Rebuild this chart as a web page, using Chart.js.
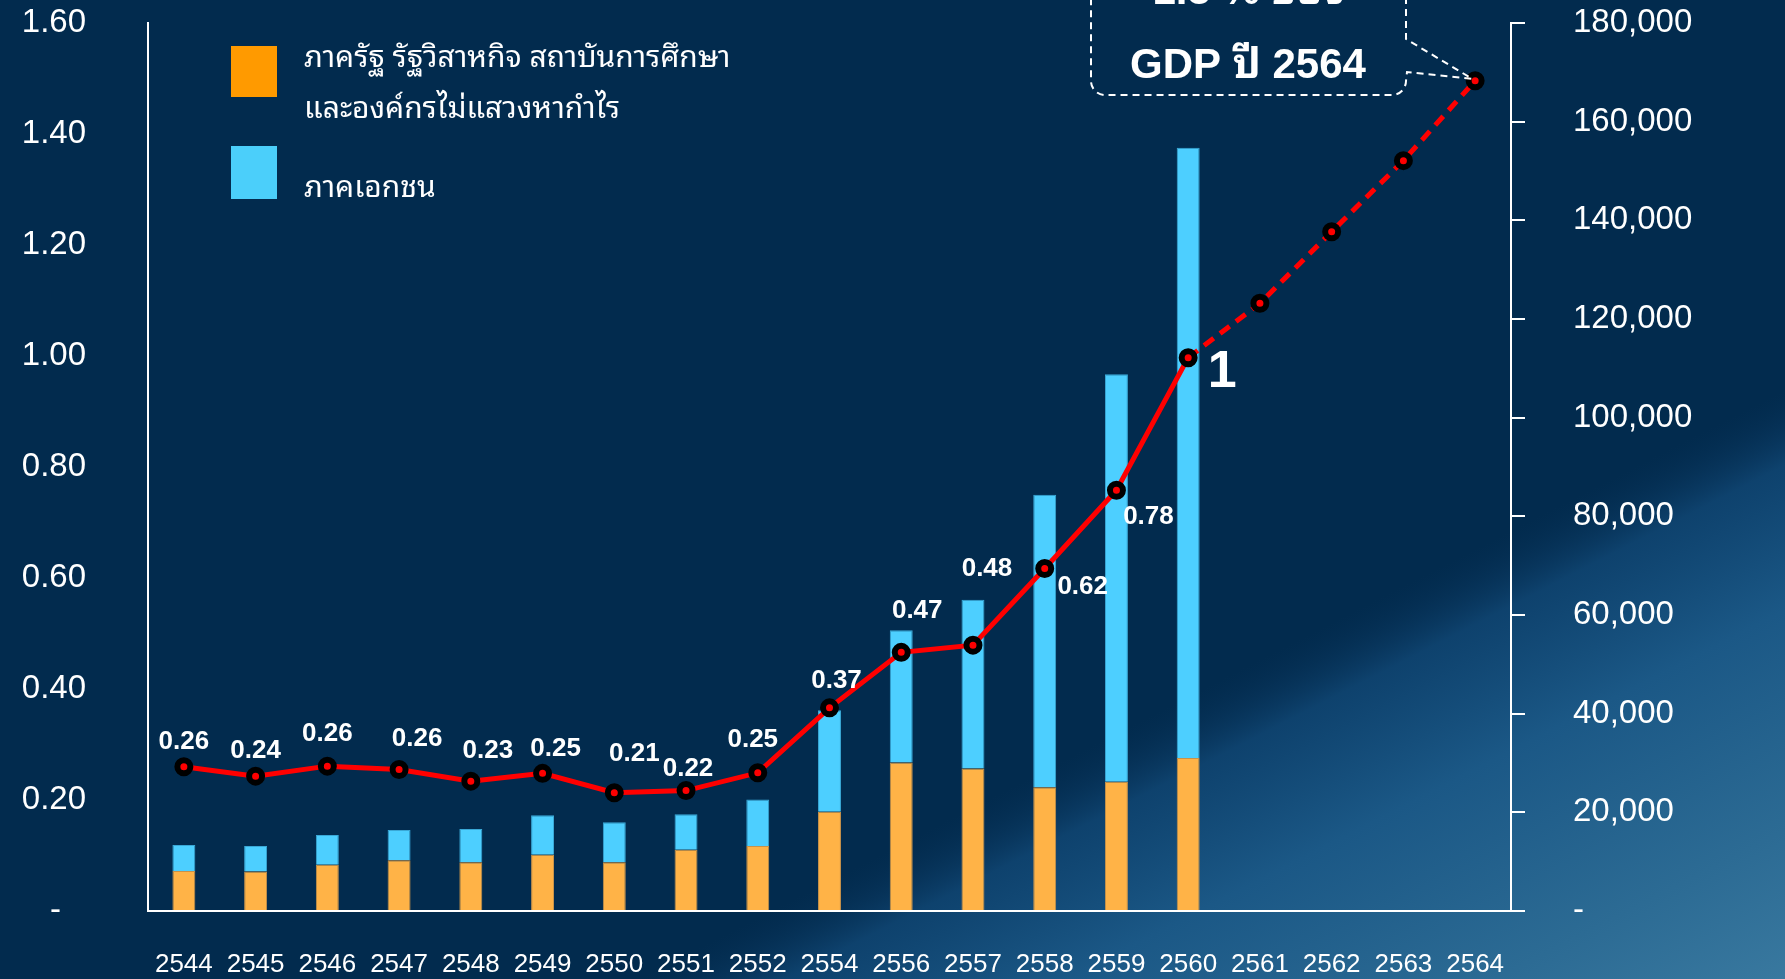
<!DOCTYPE html>
<html><head><meta charset="utf-8">
<script src="https://cdn.jsdelivr.net/npm/chart.js@4/dist/chart.umd.min.js"></script>
<style>html,body{margin:0;padding:0;background:#022b4e;overflow:hidden}canvas{display:block}</style>
</head><body>
<canvas id="c" width="1785" height="979"></canvas>
<script>
// ---- data ----
const years = ['2544','2545','2546','2547','2548','2549','2550','2551','2552','2554','2556','2557','2558','2559','2560','2561','2562','2563','2564'];
const publicSector  = [8100, 8000, 9400, 10300, 9900, 11400, 9900, 12400, 13200, 20100, 30100, 28900, 25100, 26200, 31000, null, null, null, null];
const privateSector = [5300, 5200, 6000, 6100, 6700, 8000, 8100, 7200, 9400, 20600, 26800, 34200, 59300, 82600, 123700, null, null, null, null];
const gdpShare = [0.26, 0.243, 0.261, 0.255, 0.234, 0.248, 0.213, 0.217, 0.249, 0.366, 0.466, 0.479, 0.617, 0.758, 0.997, 1.095, 1.224, 1.352, 1.496];
const gdpShareLabels = ['0.26','0.24','0.26','0.26','0.23','0.25','0.21','0.22','0.25','0.37','0.47','0.48','0.62','0.78','1', null, null, null, null];
const seriesNames = ['ภาครัฐ รัฐวิสาหกิจ สถาบันการศึกษา\nและองค์กรไม่แสวงหากำไร', 'ภาคเอกชน', 'ร้อยละของ GDP'];
const leftTicks = [0, 0.2, 0.4, 0.6, 0.8, 1.0, 1.2, 1.4, 1.6];
const rightTicks = [0, 20000, 40000, 60000, 80000, 100000, 120000, 140000, 160000, 180000];
const calloutLines = ['1.5 % ของ', 'GDP ปี 2564'];
const forecastFrom = 14; // index of last actual value (2560)

// ---- layout / style config ----
const labelOffsets = [[0,-25],[0,-25],[0,-32],[18,-31],[17,-30],[13,-25],[20,-39],[2,-22],[-5,-33],[7,-27],[16,-42],[14,-76],[38,18],[32,27],[34,15]];
const FONT = '"Liberation Sans", Arial, sans-serif';
const THAI = '"Noto Sans Thai Looped", "Noto Sans Thai", Tahoma, Loma, Garuda, "DejaVu Sans", sans-serif';

const bgPlugin = {
  id: 'bg',
  beforeDraw(chart) {
    const {ctx, width, height} = chart;
    ctx.save();
    ctx.fillStyle = '#022b4e';
    ctx.fillRect(0, 0, width, height);
    const g = ctx.createLinearGradient(1220, 680, 1476, 1178);
    g.addColorStop(0, 'rgba(8,50,88,0)');
    g.addColorStop(0.12, 'rgba(16,70,115,0.85)');
    g.addColorStop(0.35, 'rgba(27,88,134,1)');
    g.addColorStop(0.7, 'rgba(44,107,148,1)');
    g.addColorStop(1, 'rgba(60,124,162,1)');
    ctx.fillStyle = g;
    ctx.fillRect(0, 0, width, height);
    ctx.restore();
  }
};

const legendPlugin = {
  id: 'customLegend',
  afterDraw(chart) {
    const ctx = chart.ctx;
    ctx.save();
    ctx.fillStyle = '#FF9A00';
    ctx.fillRect(231, 46, 46, 51);
    ctx.fillStyle = '#4BCFFA';
    ctx.fillRect(231, 146, 46, 53);
    ctx.fillStyle = '#ffffff';
    ctx.font = '30px ' + THAI;
    ctx.textAlign = 'left';
    ctx.textBaseline = 'alphabetic';
    const l1 = seriesNames[0].split('\n');
    ctx.fillText(l1[0], 304, 67);
    ctx.fillText(l1[1], 304, 118);
    ctx.fillText(seriesNames[1], 304, 197);
    ctx.restore();
  }
};

const valueLabelPlugin = {
  id: 'valueLabels',
  afterDatasetsDraw(chart) {
    const ctx = chart.ctx;
    const meta = chart.getDatasetMeta(2);
    ctx.save();
    ctx.fillStyle = '#ffffff';
    ctx.textAlign = 'center';
    ctx.textBaseline = 'middle';
    meta.data.forEach((pt, i) => {
      const t = gdpShareLabels[i];
      if (!t) return;
      const off = labelOffsets[i] || [0, -25];
      ctx.font = (t === '1' ? 'bold 52px ' : 'bold 26px ') + FONT;
      ctx.fillText(t, pt.x + off[0], pt.y + off[1]);
    });
    ctx.restore();
  }
};

const calloutPlugin = {
  id: 'callout',
  afterDraw(chart) {
    const ctx = chart.ctx;
    const meta = chart.getDatasetMeta(2);
    const tip = meta.data[meta.data.length - 1];
    const L = 1091, R = 1406, T = -60, B = 95, r = 14;
    ctx.save();
    ctx.strokeStyle = '#ffffff';
    ctx.lineWidth = 2;
    ctx.setLineDash([7, 5]);
    ctx.beginPath();
    ctx.moveTo(L, T);
    ctx.lineTo(R, T);
    ctx.lineTo(R, 39);
    ctx.lineTo(tip.x - 3, tip.y - 2);
    ctx.lineTo(R + 1, 72);
    ctx.lineTo(R, B - r);
    ctx.arcTo(R, B, R - r, B, r);
    ctx.lineTo(L + r, B);
    ctx.arcTo(L, B, L, B - r, r);
    ctx.lineTo(L, T);
    ctx.stroke();
    ctx.setLineDash([]);
    ctx.fillStyle = '#ffffff';
    ctx.textAlign = 'center';
    ctx.textBaseline = 'alphabetic';
    ctx.font = 'bold 42px ' + FONT + ', ' + THAI;
    ctx.fillText(calloutLines[0], 1249, 4);
    ctx.fillText(calloutLines[1], 1248, 78);
    ctx.restore();
  }
};

function noPad(s) { s.paddingTop = 0; s.paddingBottom = 0; s.paddingLeft = 0; s.paddingRight = 0; }

new Chart(document.getElementById('c'), {
  data: {
    labels: years,
    datasets: [
      {
        type: 'bar', label: seriesNames[0], data: publicSector, yAxisID: 'y1',
        backgroundColor: '#FFB347', borderColor: '#c8924a', borderWidth: 1,
        barPercentage: 0.32, categoryPercentage: 1, order: 2
      },
      {
        type: 'bar', label: seriesNames[1], data: privateSector, yAxisID: 'y1',
        backgroundColor: '#4DCFFF', borderColor: '#3aa8d6', borderWidth: 1,
        barPercentage: 0.32, categoryPercentage: 1, order: 2
      },
      {
        type: 'line', label: seriesNames[2], data: gdpShare, yAxisID: 'y',
        borderColor: '#FF0000', borderWidth: 5, tension: 0,
        pointRadius: 6.5, pointBorderWidth: 6, pointBackgroundColor: '#FF0000', pointBorderColor: '#000000',
        pointHoverRadius: 6.5,
        segment: { borderDash: c => c.p0DataIndex >= forecastFrom ? [12, 8] : undefined },
        order: 0
      }
    ]
  },
  options: {
    responsive: false,
    animation: false,
    devicePixelRatio: 1,
    layout: { padding: { top: 23, left: 0, right: 0, bottom: 0 } },
    plugins: { legend: { display: false }, tooltip: { enabled: false } },
    scales: {
      x: {
        stacked: true, offset: true,
        grid: { display: false, drawTicks: false },
        border: { display: true, color: '#ffffff', width: 2 },
        ticks: { color: '#ffffff', font: { family: FONT, size: 26 }, padding: 38, maxRotation: 0, autoSkip: false },
        afterFit: s => { s.height = 68; noPad(s); }
      },
      y: {
        position: 'left', min: 0, max: 1.6,
        grid: { display: false, drawTicks: false },
        border: { display: true, color: '#ffffff', width: 2 },
        afterBuildTicks: s => { s.ticks = leftTicks.map(v => ({ value: v })); },
        ticks: { color: '#ffffff', font: { family: FONT, size: 33 }, padding: 62,
          callback: v => v === 0 ? '-  \u2009' : Number(v).toFixed(2) },
        afterFit: s => { s.width = 148; noPad(s); }
      },
      y1: {
        position: 'right', stacked: true, min: 0, max: 180000,
        grid: { display: true, drawOnChartArea: false, drawTicks: true, tickLength: 14, color: '#ffffff', lineWidth: 2 },
        border: { display: true, color: '#ffffff', width: 2 },
        afterBuildTicks: s => { s.ticks = rightTicks.map(v => ({ value: v })); },
        ticks: { color: '#ffffff', font: { family: FONT, size: 33 }, padding: 48,
          callback: v => v === 0 ? '-' : Number(v).toLocaleString('en-US') },
        afterFit: s => { s.width = 274; noPad(s); }
      }
    }
  },
  plugins: [bgPlugin, valueLabelPlugin, legendPlugin, calloutPlugin]
});
</script>
</body></html>
